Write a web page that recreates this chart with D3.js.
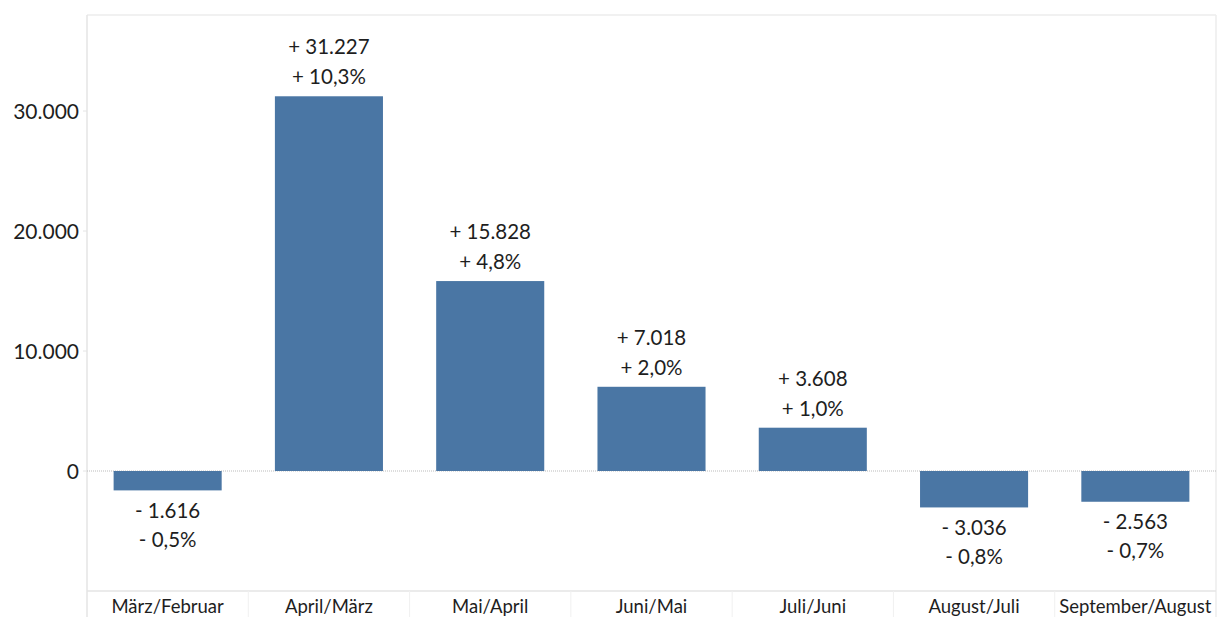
<!DOCTYPE html>
<html>
<head>
<meta charset="UTF-8">
<title>Veränderung zum Vormonat</title>
<script src="https://cdn.jsdelivr.net/npm/d3@7"></script>
<style>
  body { margin: 0; background: #fff; }
  text { font-family: Lato, "Open Sans", sans-serif; fill: #1e1e1e; }
</style>
</head>
<body>
<svg id="chart" width="1221" height="617"></svg>
<script>
// Daten
var categories = ["März/Februar", "April/März", "Mai/April", "Juni/Mai", "Juli/Juni", "August/Juli", "September/August"];
var values = [-1616, 31227, 15828, 7018, 3608, -3036, -2563];
var percents = ["- 0,5%", "+ 10,3%", "+ 4,8%", "+ 2,0%", "+ 1,0%", "- 0,8%", "- 0,7%"];
var valueLabels = ["- 1.616", "+ 31.227", "+ 15.828", "+ 7.018", "+ 3.608", "- 3.036", "- 2.563"];
var yTicks = [0, 10000, 20000, 30000];
var yTickLabels = ["0", "10.000", "20.000", "30.000"];

var svg = d3.select("#chart");
// (nicht "top" nennen, das ist window.top)
var pLeft = 87, pRight = 1216, pTop = 15, pBottom = 591;

var x = d3.scaleBand().domain(categories).range([pLeft, pRight]).paddingInner(0.33).paddingOuter(0.165);
var y = d3.scaleLinear().domain([-10000, 38000]).range([pBottom, pTop]);

// Rahmen
svg.append("line").attr("x1", pLeft).attr("x2", pRight).attr("y1", pTop).attr("y2", pTop)
  .attr("stroke", "#ececec").attr("stroke-width", 1.5);
svg.append("line").attr("x1", pRight).attr("x2", pRight).attr("y1", pTop).attr("y2", 617)
  .attr("stroke", "#ececec").attr("stroke-width", 1.5);
svg.append("line").attr("x1", pLeft).attr("x2", pLeft).attr("y1", pTop).attr("y2", 617)
  .attr("stroke", "#e4e4e4").attr("stroke-width", 1.5);
svg.append("line").attr("x1", pLeft).attr("x2", pRight).attr("y1", pBottom).attr("y2", pBottom)
  .attr("stroke", "#e4e4e4").attr("stroke-width", 1.5);

// Trennlinien unter der Achse
var gap = x.step() - x.bandwidth();
svg.selectAll(".sep").data(categories.slice(1)).enter().append("line")
  .attr("x1", function(d) { return x(d) - gap / 2; })
  .attr("x2", function(d) { return x(d) - gap / 2; })
  .attr("y1", pBottom).attr("y2", 617)
  .attr("stroke", "#f0f0f0").attr("stroke-width", 1);

// Y-Achse
svg.selectAll(".ytick").data(yTicks).enter().append("line")
  .attr("x1", pLeft - 4).attr("x2", pLeft)
  .attr("y1", function(d) { return y(d); }).attr("y2", function(d) { return y(d); })
  .attr("stroke", "#e4e4e4");
svg.selectAll(".ylabel").data(yTicks).enter().append("text")
  .attr("x", 79).attr("y", function(d) { return y(d) + 1; })
  .attr("dy", "0.35em").attr("text-anchor", "end")
  .style("font-size", "21px")
  .text(function(d, i) { return yTickLabels[i]; });

// Nulllinie
svg.append("line").attr("x1", pLeft).attr("x2", pRight).attr("y1", y(0)).attr("y2", y(0))
  .attr("stroke", "#bbb").attr("stroke-dasharray", "1,1");

// Balken
svg.selectAll(".bar").data(values).enter().append("rect")
  .attr("x", function(d, i) { return x(categories[i]); })
  .attr("width", x.bandwidth())
  .attr("y", function(d) { return y(Math.max(0, d)); })
  .attr("height", function(d) { return Math.abs(y(d) - y(0)); })
  .attr("fill", "#4a76a4");

// Beschriftung
var lbl = svg.selectAll(".lbl").data(values).enter().append("g");
lbl.append("text")
  .attr("x", function(d, i) { return x(categories[i]) + x.bandwidth() / 2; })
  .attr("y", function(d) { return d >= 0 ? y(d) - 49 : y(d) + 20; })
  .attr("dy", "0.35em").attr("text-anchor", "middle").style("font-size", "20.5px")
  .text(function(d, i) { return valueLabels[i]; });
lbl.append("text")
  .attr("x", function(d, i) { return x(categories[i]) + x.bandwidth() / 2; })
  .attr("y", function(d) { return d >= 0 ? y(d) - 19 : y(d) + 49; })
  .attr("dy", "0.35em").attr("text-anchor", "middle").style("font-size", "20.5px")
  .text(function(d, i) { return percents[i]; });

// X-Achse
svg.selectAll(".xlabel").data(categories).enter().append("text")
  .attr("x", function(d) { return x(d) + x.bandwidth() / 2; })
  .attr("y", 607).attr("dy", "0.35em").attr("text-anchor", "middle")
  .style("font-size", "18.5px")
  .text(function(d) { return d; });
</script>
</body>
</html>
